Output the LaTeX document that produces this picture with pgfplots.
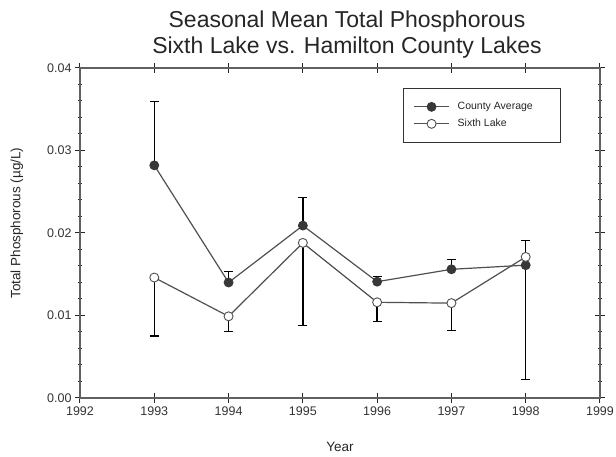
\documentclass[border=0pt]{standalone}
\usepackage{fontspec}
\setmainfont{Liberation Sans}
\usepackage{pgfplots}
\pgfplotsset{compat=1.18}
\definecolor{linegray}{HTML}{505050}
\definecolor{markgray}{HTML}{383838}
\definecolor{axgray}{HTML}{606060}
\begin{document}
\begin{tikzpicture}
\useasboundingbox (-80pt,-59pt) rectangle (536pt,398pt);
\begin{axis}[
  scale only axis, width=520pt, height=330pt,
  at={(0,0)}, anchor=south west,
  xmin=1992, xmax=1999, ymin=0, ymax=0.04,
  xtick={1992,1993,1994,1995,1996,1997,1998,1999},
  xticklabels={1992,1993,1994,1995,1996,1997,1998,1999},
  ytick={0,0.01,0.02,0.03,0.04},
  scaled y ticks=false,
  minor y tick num=4,
  yticklabel style={/pgf/number format/fixed, /pgf/number format/fixed zerofill, /pgf/number format/precision=2},
  /pgf/number format/assume math mode=true,
  tick label style={font=\fontsize{12.5}{14}\selectfont, text=black!80},
  tick align=center,
  major tick length=10pt, minor tick length=5pt,
  every tick/.style={black!85, line width=1pt},
  axis line style={axgray, line width=1.1pt},
  title={Seasonal Mean Total Phosphorous\\Sixth Lake vs. Hamilton County Lakes},
  title style={align=center, font=\fontsize{23}{26}\selectfont, text=black!85,
    at={(0.5,1)}, anchor=south, xshift=7pt, yshift=0pt},
  xlabel={Year},
  xlabel style={font=\fontsize{13.5}{16}\selectfont, text=black!85,
    at={(axis description cs:0.5,0)}, anchor=base, yshift=-54pt},
  ylabel={Total Phosphorous (µg/L)},
  ylabel style={font=\fontsize{13.5}{16}\selectfont, text=black!85,
    at={(axis description cs:0,0.53)}, anchor=center, rotate=0, yshift=63pt},
  legend style={at={(0.6212,0.9394)}, anchor=north west, draw=black!80,
    line width=0.9pt, font=\fontsize{10.5}{12}\selectfont, text=black!85,
    inner xsep=10pt, inner ysep=12pt, row sep=4pt,
    /tikz/every odd column/.append style={column sep=6pt}},
  legend cell align=left,
  legend image code/.code={\draw[#1, mark repeat=2, mark phase=2]
    plot coordinates {(0pt,0pt) (17.5pt,0pt) (35pt,0pt)};},
]
\addplot[linegray, line width=1.2pt, mark=*, mark size=4.5pt,
  mark options={fill=markgray, draw=markgray, line width=0.8pt},
  error bars/.cd, y dir=both, y explicit,
  error bar style={black, line width=1.5pt},
  error mark options={rotate=90, black, line width=1.3pt, mark size=4.5pt}]
coordinates {
  (1993,0.0282) += (0,0.0077) -= (0,0)
  (1994,0.0140) += (0,0.0013) -= (0,0)
  (1995,0.0209) += (0,0.0034) -= (0,0)
  (1996,0.0141) += (0,0.0006) -= (0,0)
  (1997,0.0156) += (0,0.0012) -= (0,0)
  (1998,0.0161) += (0,0) -= (0,0.0139)
};
\addlegendentry{County Average\hspace*{16pt}\mbox{}}
\addplot[linegray, line width=1.2pt, mark=*, mark size=4.5pt,
  mark options={fill=white, draw=linegray, line width=0.9pt},
  error bars/.cd, y dir=both, y explicit,
  error bar style={black, line width=1.5pt},
  error mark options={rotate=90, black, line width=1.3pt, mark size=4.5pt}]
coordinates {
  (1993,0.0146) += (0,0) -= (0,0.0071)
  (1994,0.0099) += (0,0) -= (0,0.0018)
  (1995,0.0188) += (0,0) -= (0,0.0100)
  (1996,0.0116) += (0,0) -= (0,0.0023)
  (1997,0.0115) += (0,0) -= (0,0.0033)
  (1998,0.0171) += (0,0.0020) -= (0,0)
};
\addlegendentry{Sixth Lake}
\end{axis}
\end{tikzpicture}
\end{document}
